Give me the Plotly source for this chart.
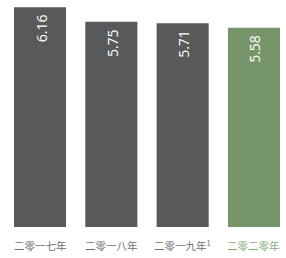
import plotly.graph_objects as go

categories = ["二零一七年", "二零一八年", "二零一九年<sup>1</sup>", "二零二零年"]
values = [6.16, 5.75, 5.71, 5.58]
labels = ["6.16", "5.75", "5.71", "5.58"]
bar_colors = ["#58595b", "#58595b", "#58595b", "#76956a"]
tick_colors = ["#6d6e71", "#6d6e71", "#6d6e71", "#86a878"]

xs = list(range(len(categories)))

fig = go.Figure(go.Bar(
    x=xs, y=values, marker=dict(color=bar_colors, line=dict(width=0)),
    hoverinfo="skip",
))
for x, v, l in zip(xs, values, labels):
    fig.add_annotation(x=x, y=v, xref="x", yref="y", text=l, showarrow=False,
                       textangle=-90, yanchor="top", yshift=-5, xshift=1,
                       font=dict(family="Open Sans", size=14, color="white"))
for x, t, c in zip(xs, categories, tick_colors):
    fig.add_annotation(x=x, y=0, xref="x", yref="y", text=t, showarrow=False,
                       yanchor="middle", yshift=-18,
                       font=dict(family="Noto Sans CJK SC", size=10.5, color=c))
fig.update_layout(
    width=286, height=258, margin=dict(l=0, r=0, t=0, b=31, autoexpand=False),
    plot_bgcolor="white", paper_bgcolor="white", bargap=0.27,
    showlegend=False,
)
fig.update_xaxes(range=[-0.561, 3.449], showticklabels=False, ticks="",
                 showline=False, showgrid=False, zeroline=False, automargin=False)
fig.update_yaxes(range=[0, 6.36], visible=False, automargin=False)
fig.write_html("out.html", config={"displayModeBar": False},
               post_script="document.body.style.margin='0';document.body.style.overflow='hidden';")
